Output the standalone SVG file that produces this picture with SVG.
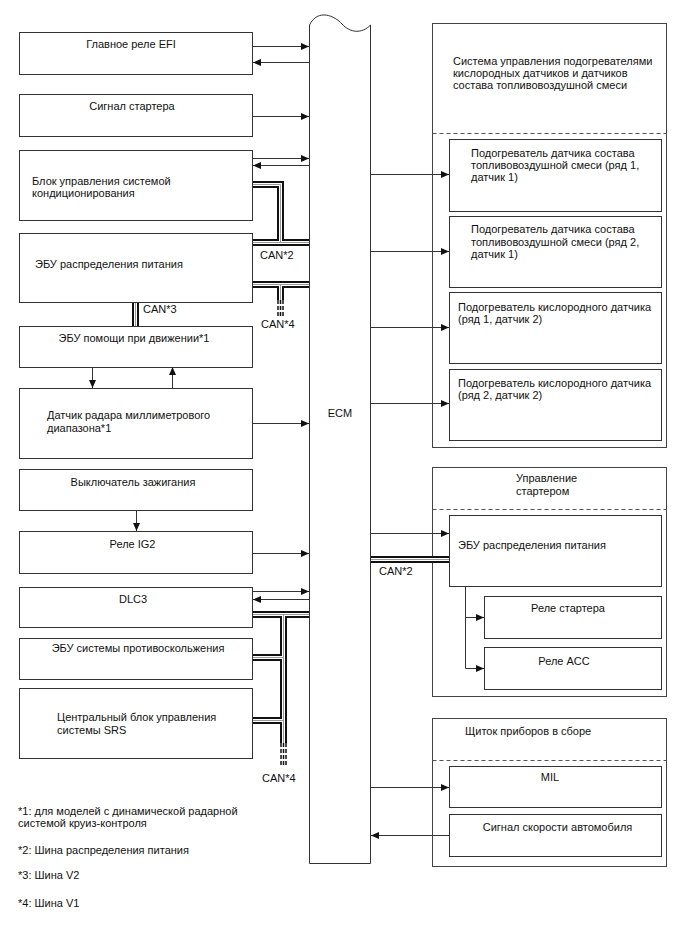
<svg xmlns="http://www.w3.org/2000/svg" width="688" height="949" viewBox="0 0 688 949">
<style>
.box{fill:#fff;stroke:#333;stroke-width:1}
.grp{fill:none;stroke:#444;stroke-width:1}
.t{font-family:"Liberation Sans",Arial,sans-serif;font-size:11px;fill:#111}
.m{text-anchor:middle}
.ln{fill:none;stroke:#333;stroke-width:1}
.dsh{fill:none;stroke:#555;stroke-width:1;stroke-dasharray:4 3}
.cb{fill:none;stroke:#111;stroke-width:7}
.cw{fill:none;stroke:#fff;stroke-width:3}
.cg{fill:none;stroke:#999;stroke-width:1}
.cd{fill:none;stroke:#111;stroke-width:1.5;stroke-dasharray:4 2}
</style>
<defs>
<marker id="ah" viewBox="0 0 8 7" refX="8" refY="3.5" markerWidth="8" markerHeight="7" markerUnits="userSpaceOnUse" orient="auto">
<path d="M0,0 L8,3.5 L0,7 z" fill="#111"/>
</marker>
</defs>
<rect width="688" height="949" fill="#fff"/>

<g id="ecm">
<path class="box" d="M309.5,25 C318,8 335,16 342,24 C350,33 362,34 370.5,25 V863.5 H309.5 Z"/>
<text class="t m" x="340" y="417">ECM</text>
</g>

<g id="n1"><rect class="box" x="19.5" y="32.5" width="233" height="42"/><text class="t m" x="131" y="48">Главное реле EFI</text></g>
<g id="n2"><rect class="box" x="19.5" y="94.5" width="233" height="42"/><text class="t m" x="132" y="110">Сигнал стартера</text></g>
<g id="n3"><rect class="box" x="19.5" y="150.5" width="233" height="70"/><text class="t" x="32" y="185">Блок управления системой</text><text class="t" x="32" y="197">кондиционирования</text></g>
<g id="n4"><rect class="box" x="19.5" y="233.5" width="233" height="69"/><text class="t" x="35" y="268">ЭБУ распределения питания</text></g>
<g id="n5"><rect class="box" x="19.5" y="326.5" width="233" height="41"/><text class="t m" x="134" y="342">ЭБУ помощи при движении*1</text></g>
<g id="n6"><rect class="box" x="19.5" y="388.5" width="233" height="70"/><text class="t" x="47" y="419">Датчик радара миллиметрового</text><text class="t" x="47" y="432">диапазона*1</text></g>
<g id="n7"><rect class="box" x="19.5" y="469.5" width="233" height="41"/><text class="t m" x="133" y="486">Выключатель зажигания</text></g>
<g id="n8"><rect class="box" x="19.5" y="531.5" width="233" height="42"/><text class="t m" x="132.5" y="548">Реле IG2</text></g>
<g id="n9"><rect class="box" x="19.5" y="587.5" width="233" height="40"/><text class="t m" x="133" y="603">DLC3</text></g>
<g id="n10"><rect class="box" x="19.5" y="638.5" width="233" height="41"/><text class="t m" x="138" y="652">ЭБУ системы противоскольжения</text></g>
<g id="n11"><rect class="box" x="19.5" y="688.5" width="233" height="70"/><text class="t" x="57" y="721">Центральный блок управления</text><text class="t" x="57" y="734">системы SRS</text></g>

<g id="r1">
<rect class="grp" x="432.5" y="23.5" width="234" height="424"/>
<line class="dsh" x1="432.5" y1="133.5" x2="666.5" y2="133.5"/>
<text class="t" x="453" y="65">Система управления подогревателями</text>
<text class="t" x="453" y="77">кислородных датчиков и датчиков</text>
<text class="t" x="453" y="89">состава топливовоздушной смеси</text>
</g>
<g id="r1a"><rect class="box" x="449.5" y="139.5" width="212" height="72"/><text class="t" x="471" y="157">Подогреватель датчика состава</text><text class="t" x="471" y="169">топливовоздушной смеси (ряд 1,</text><text class="t" x="471" y="181">датчик 1)</text></g>
<g id="r1b"><rect class="box" x="449.5" y="216.5" width="212" height="71"/><text class="t" x="471" y="233">Подогреватель датчика состава</text><text class="t" x="471" y="245.5">топливовоздушной смеси (ряд 2,</text><text class="t" x="471" y="258">датчик 1)</text></g>
<g id="r1c"><rect class="box" x="449.5" y="292.5" width="212" height="71"/><text class="t" x="458" y="311">Подогреватель кислородного датчика</text><text class="t" x="458" y="323">(ряд 1, датчик 2)</text></g>
<g id="r1d"><rect class="box" x="449.5" y="369.5" width="212" height="71"/><text class="t" x="458" y="387">Подогреватель кислородного датчика</text><text class="t" x="458" y="399">(ряд 2, датчик 2)</text></g>

<g id="r2">
<rect class="grp" x="432.5" y="467.5" width="234" height="229"/>
<line class="dsh" x1="432.5" y1="509.5" x2="666.5" y2="509.5"/>
<text class="t" x="516" y="482">Управление</text>
<text class="t" x="516" y="495">стартером</text>
</g>
<g id="r2a"><rect class="box" x="449.5" y="515.5" width="212" height="71"/><text class="t" x="458" y="549">ЭБУ распределения питания</text></g>
<g id="r2b"><rect class="box" x="484.5" y="596.5" width="177" height="42"/><text class="t m" x="568" y="612">Реле стартера</text></g>
<g id="r2c"><rect class="box" x="484.5" y="647.5" width="177" height="42"/><text class="t m" x="564" y="665">Реле ACC</text></g>

<g id="r3">
<rect class="grp" x="432.5" y="718.5" width="234" height="148"/>
<line class="dsh" x1="432.5" y1="760.5" x2="666.5" y2="760.5"/>
<text class="t" x="465" y="735">Щиток приборов в сборе</text>
</g>
<g id="r3a"><rect class="box" x="449.5" y="766.5" width="212" height="41"/><text class="t m" x="550" y="781">MIL</text></g>
<g id="r3b"><rect class="box" x="449.5" y="814.5" width="212" height="42"/><text class="t m" x="557.5" y="831">Сигнал скорости автомобиля</text></g>

<g id="connectors">
<g id="can">
<path class="cb" d="M253,184.5 H280.5 V242.5 M253,242.5 H309 M253,284.5 H309 M280.5,284.5 V300 M135.5,303 V326 M253,614.5 H309 M283.5,614.5 V743 M253,657.5 H283.5 M253,720.5 H283.5 M371,559.5 H449"/>
<path class="cw" d="M253,184.5 H280.5 V242.5 M253,242.5 H309 M253,284.5 H309 M280.5,284.5 V300 M135.5,303 V326 M253,614.5 H309 M283.5,614.5 V743 M253,657.5 H283.5 M253,720.5 H283.5 M371,559.5 H449"/>
<path class="cg" d="M253,184.5 H280.5 V242.5 M253,242.5 H309 M253,284.5 H309 M280.5,284.5 V300 M135.5,303 V326 M253,614.5 H309 M283.5,614.5 V743 M253,657.5 H283.5 M253,720.5 H283.5 M371,559.5 H449"/>
<path class="cd" d="M278,300 V316 M280.5,300 V316 M283,300 V316 M281,743 V767 M283.5,743 V767 M286,743 V767"/>
</g>
<g id="sig">
<path class="ln" marker-end="url(#ah)" d="M253,46.5 H309"/>
<path class="ln" marker-end="url(#ah)" d="M309,62.5 H253"/>
<path class="ln" marker-end="url(#ah)" d="M253,116.5 H309"/>
<path class="ln" marker-end="url(#ah)" d="M253,158.5 H309"/>
<path class="ln" marker-end="url(#ah)" d="M309,165.5 H253"/>
<path class="ln" marker-end="url(#ah)" d="M92.5,367 V388"/>
<path class="ln" marker-end="url(#ah)" d="M172.5,388 V367"/>
<path class="ln" marker-end="url(#ah)" d="M253,423.5 H309"/>
<path class="ln" marker-end="url(#ah)" d="M136.5,511 V531"/>
<path class="ln" marker-end="url(#ah)" d="M253,553.5 H309"/>
<path class="ln" marker-end="url(#ah)" d="M253,591.5 H309"/>
<path class="ln" marker-end="url(#ah)" d="M309,599.5 H253"/>
<path class="ln" marker-end="url(#ah)" d="M371,174.5 H449"/>
<path class="ln" marker-end="url(#ah)" d="M371,251.5 H449"/>
<path class="ln" marker-end="url(#ah)" d="M371,327.5 H449"/>
<path class="ln" marker-end="url(#ah)" d="M371,403.5 H449"/>
<path class="ln" marker-end="url(#ah)" d="M371,533.5 H449"/>
<path class="ln" marker-end="url(#ah)" d="M465.5,587 V668.5 H484"/>
<path class="ln" marker-end="url(#ah)" d="M465.5,617.5 H484"/>
<path class="ln" marker-end="url(#ah)" d="M371,787.5 H449"/>
<path class="ln" marker-end="url(#ah)" d="M449,835.5 H371"/>
</g>
<text class="t" x="260" y="259">CAN*2</text>
<text class="t" x="261" y="328">CAN*4</text>
<text class="t" x="143" y="313">CAN*3</text>
<text class="t" x="262" y="782">CAN*4</text>
<text class="t" x="379" y="575">CAN*2</text>
</g>

<g id="notes">
<text class="t" x="18" y="815">*1: для моделей с динамической радарной</text>
<text class="t" x="18" y="827">системой круиз-контроля</text>
<text class="t" x="18" y="854">*2: Шина распределения питания</text>
<text class="t" x="18" y="879">*3: Шина V2</text>
<text class="t" x="18" y="907">*4: Шина V1</text>
</g>
</svg>
